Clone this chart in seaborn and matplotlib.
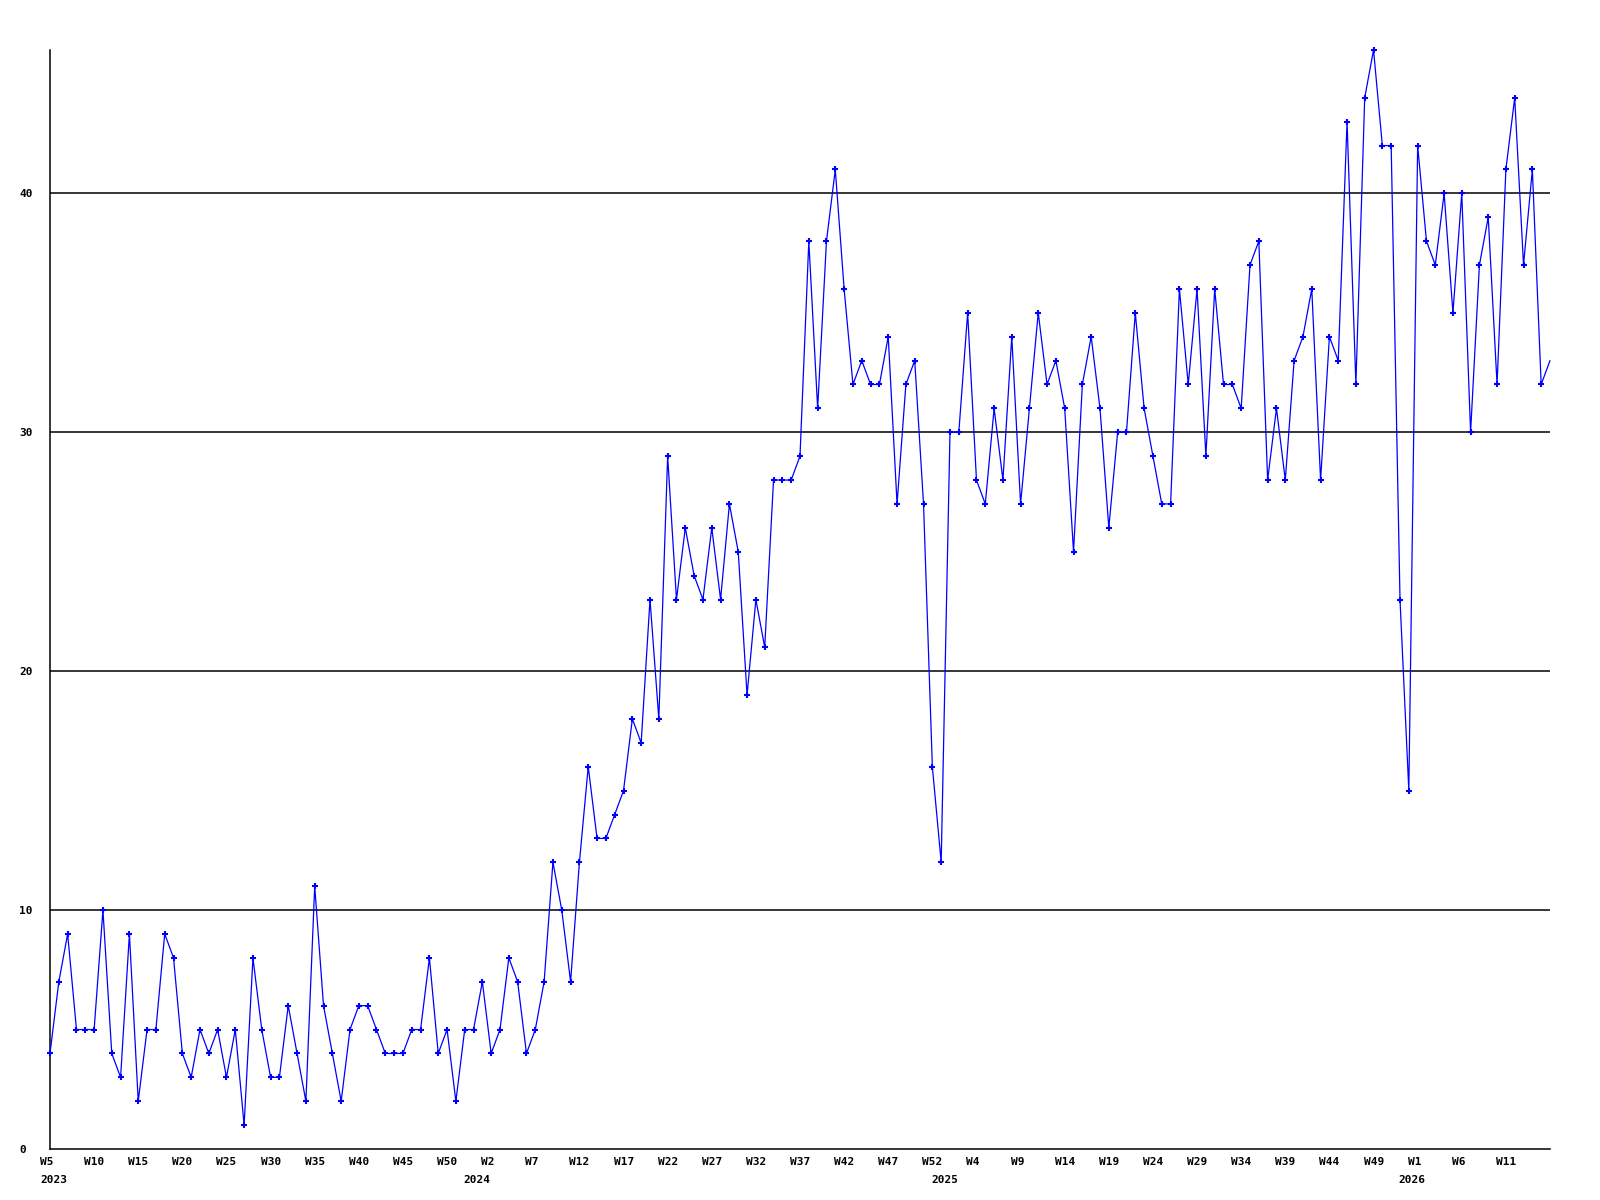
import numpy as np
import pandas as pd
import matplotlib
matplotlib.use('Agg')
import matplotlib.pyplot as plt
import matplotlib.transforms as mtransforms
import seaborn as sns

# weekly counts, 2023 W5 .. 2026 W14
values = [4, 7, 9, 5, 5, 5, 10, 4, 3, 9, 2, 5, 5, 9, 8, 4, 3, 5, 4, 5,
          3, 5, 1, 8, 5, 3, 3, 6, 4, 2, 11, 6, 4, 2, 5, 6, 6, 5, 4, 4,
          4, 5, 5, 8, 4, 5, 2, 5, 5, 7, 4, 5, 8, 7, 4, 5, 7, 12, 10, 7,
          12, 16, 13, 13, 14, 15, 18, 17, 23, 18, 29, 23, 26, 24, 23, 26, 23, 27, 25, 19,
          23, 21, 28, 28, 28, 29, 38, 31, 38, 41, 36, 32, 33, 32, 32, 34, 27, 32, 33, 27,
          16, 12, 30, 30, 35, 28, 27, 31, 28, 34, 27, 31, 35, 32, 33, 31, 25, 32, 34, 31,
          26, 30, 30, 35, 31, 29, 27, 27, 36, 32, 36, 29, 36, 32, 32, 31, 37, 38, 28, 31,
          28, 33, 34, 36, 28, 34, 33, 43, 32, 44, 46, 42, 42, 23, 15, 42, 38, 37, 40, 35,
          40, 30, 37, 39, 32, 41, 44, 37, 41, 32, 33]

week_labels = ['W5', 'W10', 'W15', 'W20', 'W25', 'W30', 'W35', 'W40', 'W45', 'W50',
               'W2', 'W7', 'W12', 'W17', 'W22', 'W27', 'W32', 'W37', 'W42', 'W47', 'W52',
               'W4', 'W9', 'W14', 'W19', 'W24', 'W29', 'W34', 'W39', 'W44', 'W49',
               'W1', 'W6', 'W11']
year_labels = ['2023', '2024', '2025', '2026']
year_index = [0, 48, 101, 154]
y_ticks = [0, 10, 20, 30, 40]

df = pd.DataFrame({'week': np.arange(len(values)), 'count': values})

sns.set_style('white')
plt.rcParams['font.family'] = ['DejaVu Sans Mono']
plt.rcParams['font.weight'] = 'bold'
plt.rcParams['font.size'] = 8
plt.rcParams['xtick.labelsize'] = 8
plt.rcParams['ytick.labelsize'] = 8
plt.rcParams['xtick.color'] = 'black'
plt.rcParams['ytick.color'] = 'black'
plt.rcParams['text.color'] = 'black'

fig = plt.figure(figsize=(16, 12), dpi=100)
ax = fig.add_axes([50 / 1600, 1 - 1149 / 1200, 1500 / 1600, 1099 / 1200])

for v in y_ticks[1:]:
    ax.axhline(v, color='black', lw=1.1, zorder=1)

sns.lineplot(data=df, x='week', y='count', ax=ax, color='#0000ff', lw=0.9,
             marker='+', markersize=4, markeredgewidth=1.5,
             markeredgecolor='#0000ff', markerfacecolor='#0000ff',
             markevery=list(range(len(values) - 1)), clip_on=False, zorder=3)

ax.set_xlim(0, len(values) - 1)
ax.set_ylim(0, 46)
ax.set_xlabel('')
ax.set_ylabel('')

ax.xaxis.remove_overlapping_locs = False
ax.set_xticks(np.arange(0, 5 * len(week_labels), 5))
ax.set_xticklabels(week_labels, fontweight='bold', ha='left')
ax.set_xticks(year_index, minor=True)
ax.set_xticklabels(year_labels, minor=True, fontweight='bold', ha='left')
ax.tick_params(axis='x', which='both', labelsize=8, labelcolor='black')
ax.tick_params(axis='x', which='major', length=0, pad=6)
ax.tick_params(axis='x', which='minor', length=0, pad=19)

ax.set_yticks(y_ticks)
ax.set_yticklabels([str(v) for v in y_ticks], fontweight='bold', ha='left')
ax.tick_params(axis='y', length=0, pad=22, labelsize=8, labelcolor='black')

shift = mtransforms.ScaledTranslation(-10 / 100, 0, fig.dpi_scale_trans)
for lab in ax.get_xticklabels(which='both'):
    lab.set_transform(lab.get_transform() + shift)
    lab.set_fontsize(8)
    lab.set_fontweight('bold')

for s in ['top', 'right']:
    ax.spines[s].set_visible(False)
for s in ['left', 'bottom']:
    ax.spines[s].set_color('black')
    ax.spines[s].set_linewidth(1.1)

fig.savefig('out.png', dpi=100)
